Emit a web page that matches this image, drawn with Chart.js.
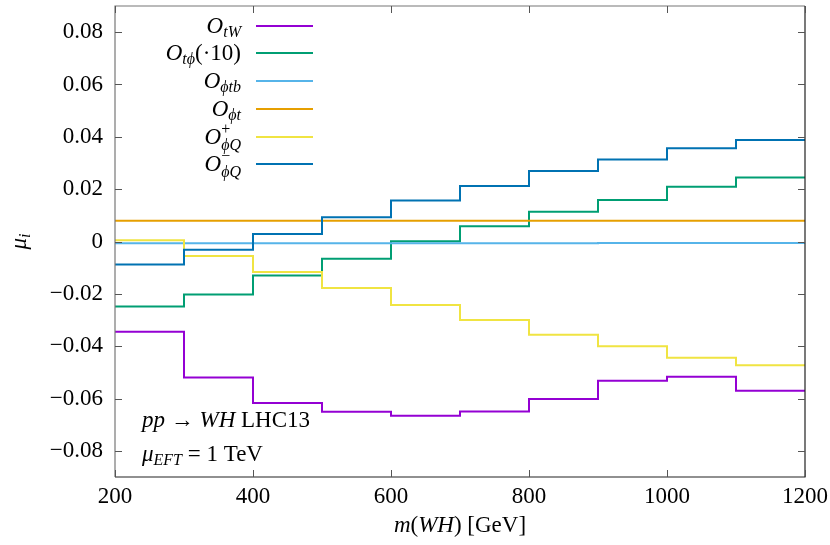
<!DOCTYPE html>
<html><head><meta charset="utf-8">
<script src="https://cdn.jsdelivr.net/npm/chart.js@4"></script>
<style>html,body{margin:0;padding:0;background:#fff}</style>
</head><body>
<canvas id="c" width="830" height="545" style="width:830px;height:545px;display:block"></canvas>
<script>
// ---- data ----
const binEdges = [200, 300, 400, 500, 600, 700, 800, 900, 1000, 1100, 1200];
const seriesLabels = ['O_tW', 'O_tϕ(·10)', 'O_ϕtb', 'O_ϕt', 'O+_ϕQ', 'O-_ϕQ'];
const O_tW    = [-0.0345, -0.0520, -0.0617, -0.0651, -0.0666, -0.0650, -0.0602, -0.0532, -0.0517, -0.0570];
const O_tphi  = [-0.0248, -0.0203, -0.0130, -0.0066, 0.0001, 0.0058, 0.0114, 0.0159, 0.0209, 0.0245];
const O_phitb = [-0.0007, -0.0007, -0.0007, -0.0007, -0.0007, -0.0007, -0.0007, -0.0006, -0.0006, -0.0006];
const O_phit  = [0.0079, 0.0079, 0.0079, 0.0079, 0.0079, 0.0079, 0.0079, 0.0079, 0.0079, 0.0079];
const O_phiQp = [0.0005, -0.0055, -0.0117, -0.0178, -0.0243, -0.0300, -0.0356, -0.0400, -0.0444, -0.0473];
const O_phiQm = [-0.0088, -0.0032, 0.0029, 0.0093, 0.0157, 0.0212, 0.0269, 0.0313, 0.0356, 0.0388];
const yTicks = [-0.08, -0.06, -0.04, -0.02, 0, 0.02, 0.04, 0.06, 0.08];
const xTicks = [200, 400, 600, 800, 1000, 1200];

const seriesValues = [O_tW, O_tphi, O_phitb, O_phit, O_phiQp, O_phiQm];
const seriesColors = ['#9400d3', '#009e73', '#56b4e9', '#e69f00', '#f0e442', '#0072b2'];

// histogram steps: value of each bin at its left edge, last value repeated at the right edge
function stepPoints(vals) {
  const pts = vals.map((v, i) => ({x: binEdges[i], y: v}));
  pts.push({x: binEdges[binEdges.length - 1], y: vals[vals.length - 1]});
  return pts;
}

const FF = '"Liberation Serif", "DejaVu Serif", serif';
function fnt(p) { return (p.it ? 'italic ' : '') + p.sz + 'px ' + FF; }
function partWidth(ctx, p) {
  if (p.group) return Math.max(...p.group.map(q => partWidth(ctx, q)));
  ctx.font = fnt(p); return ctx.measureText(p.t).width;
}
function richWidth(ctx, parts) { return parts.reduce((a, p) => a + partWidth(ctx, p), 0); }
function drawRich(ctx, parts, x, y, align) {
  let w = richWidth(ctx, parts);
  let cx = align === 'right' ? x - w : align === 'center' ? x - w / 2 : x;
  ctx.textAlign = 'left'; ctx.textBaseline = 'alphabetic'; ctx.fillStyle = '#000';
  for (const p of parts) {
    if (p.group) {
      for (const q of p.group) { ctx.font = fnt(q); ctx.fillText(q.t, cx, y + (q.dy || 0)); }
    } else { ctx.font = fnt(p); ctx.fillText(p.t, cx, y + (p.dy || 0)); }
    cx += partWidth(ctx, p);
  }
}
const M = 23, S = 16;
const legendRich = [
  [{t:'O', it:1, sz:M}, {t:'tW', it:1, sz:S, dy:4}],
  [{t:'O', it:1, sz:M}, {t:'tϕ', it:1, sz:S, dy:4}, {t:'(·10)', sz:M}],
  [{t:'O', it:1, sz:M}, {t:'ϕtb', it:1, sz:S, dy:4}],
  [{t:'O', it:1, sz:M}, {t:'ϕt', it:1, sz:S, dy:4}],
  [{t:'O', it:1, sz:M}, {group:[{t:'+', sz:S, dy:-10}, {t:'ϕQ', it:1, sz:S, dy:6}]}],
  [{t:'O', it:1, sz:M}, {group:[{t:'−', sz:S, dy:-10}, {t:'ϕQ', it:1, sz:S, dy:6}]}]
];
const legendRowsY = [26, 53, 81, 109, 137, 164];

const decor = {
  id: 'decor',
  afterDraw(chart) {
    const ctx = chart.ctx, a = chart.chartArea;
    const xs = chart.scales.x, ys = chart.scales.y;
    ctx.save();
    // frame
    ctx.lineWidth = 1.2;
    ctx.strokeStyle = '#777';
    ctx.beginPath(); ctx.moveTo(a.left, a.bottom); ctx.lineTo(a.left, a.top); ctx.lineTo(a.right, a.top); ctx.stroke();
    ctx.strokeStyle = '#222';
    ctx.beginPath(); ctx.moveTo(a.right, a.top); ctx.lineTo(a.right, a.bottom); ctx.lineTo(a.left, a.bottom); ctx.stroke();
    // inward ticks
    ctx.strokeStyle = '#555'; ctx.lineWidth = 1;
    ctx.beginPath();
    for (const v of yTicks) {
      const py = Math.round(ys.getPixelForValue(v)) + 0.5;
      ctx.moveTo(a.left, py); ctx.lineTo(a.left + 7, py);
      ctx.moveTo(a.right, py); ctx.lineTo(a.right - 7, py);
    }
    for (const v of xTicks) {
      const px = Math.round(xs.getPixelForValue(v)) + 0.5;
      ctx.moveTo(px, a.bottom); ctx.lineTo(px, a.bottom - 7);
      ctx.moveTo(px, a.top); ctx.lineTo(px, a.top + 7);
    }
    ctx.stroke();
    // legend
    chart.data.datasets.forEach((ds, i) => {
      const y = legendRowsY[i];
      drawRich(ctx, legendRich[i], 241, y + 7, 'right');
      ctx.strokeStyle = ds.borderColor; ctx.lineWidth = 2;
      ctx.beginPath(); ctx.moveTo(256, y); ctx.lineTo(313, y); ctx.stroke();
    });
    // annotations
    drawRich(ctx, [{t:'pp', it:1, sz:M}, {t:' → ', sz:M}, {t:'WH', it:1, sz:M}, {t:' LHC13', sz:M}], 142, 427, 'left');
    drawRich(ctx, [{t:'μ', it:1, sz:M}, {t:'EFT', it:1, sz:S, dy:4}, {t:' = 1 TeV', sz:M}], 142, 461, 'left');
    // axis titles
    drawRich(ctx, [{t:'m', it:1, sz:M}, {t:'(', sz:M}, {t:'WH', it:1, sz:M}, {t:')', sz:M}, {t:' [GeV]', sz:M}], (a.left + a.right) / 2, 532, 'center');
    ctx.translate(26, (a.top + a.bottom) / 2);
    ctx.rotate(-Math.PI / 2);
    drawRich(ctx, [{t:'μ', it:1, sz:M}, {t:'i', it:1, sz:S, dy:4}], 0, 0, 'center');
    ctx.restore();
  }
};

new Chart(document.getElementById('c'), {
  type: 'line',
  data: {
    datasets: seriesValues.map((vals, i) => ({
      label: seriesLabels[i],
      data: stepPoints(vals),
      borderColor: seriesColors[i],
      backgroundColor: seriesColors[i],
      borderWidth: 2,
      pointRadius: 0,
      stepped: 'before',
      fill: false,
      order: 5 - i
    }))
  },
  options: {
    responsive: false,
    devicePixelRatio: 1,
    animation: false,
    layout: {padding: {top: 6, right: 25, left: 0, bottom: 0}},
    plugins: {legend: {display: false}, tooltip: {enabled: false}, title: {display: false}},
    scales: {
      x: {
        type: 'linear', min: 200, max: 1200,
        grid: {display: false, drawTicks: false},
        border: {display: false},
        ticks: {font: {family: FF, size: 23}, color: '#000', padding: 6, maxRotation: 0,
                callback: v => String(v)},
        afterBuildTicks: s => { s.ticks = xTicks.map(v => ({value: v})); },
        afterFit: s => { s.height = 68; s.paddingLeft = 0; s.paddingRight = 0; }
      },
      y: {
        type: 'linear', min: -0.09, max: 0.09,
        grid: {display: false, drawTicks: false},
        border: {display: false},
        ticks: {font: {family: FF, size: 23}, color: '#000', padding: 12,
                callback: v => v === 0 ? '0' : (v < 0 ? '−' : '') + Math.abs(v).toFixed(2)},
        afterBuildTicks: s => { s.ticks = yTicks.map(v => ({value: v})); },
        afterFit: s => { s.width = 115; s.paddingTop = 0; s.paddingBottom = 0; }
      }
    }
  },
  plugins: [decor]
});
</script>
</body></html>
